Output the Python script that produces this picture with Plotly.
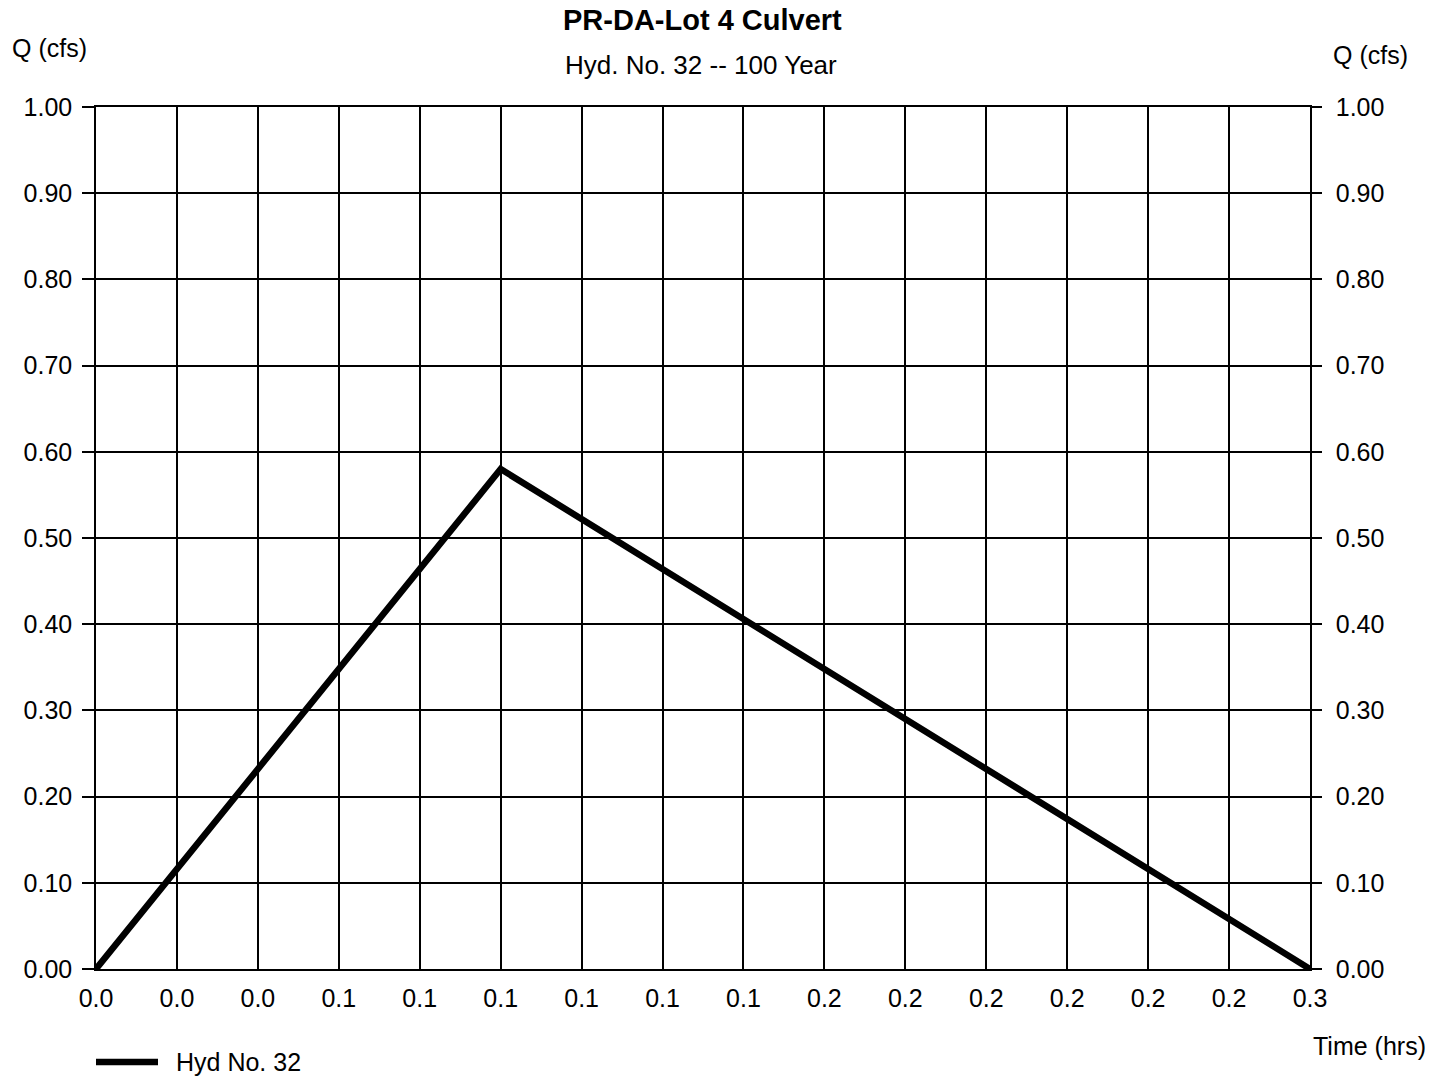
import plotly.graph_objects as go

# Hydrograph vertices (time in hours, flow in cfs)
time_hrs = [0.0, 5 / 60, 15 / 60]
flow_cfs = [0.0, 0.58, 0.0]
series_name = "Hyd No. 32"

# X-axis tick positions (one per minute) and their printed labels
x_tick_minutes = list(range(0, 16))
x_tick_labels = ["0.0", "0.0", "0.0", "0.1", "0.1", "0.1", "0.1", "0.1",
                 "0.1", "0.2", "0.2", "0.2", "0.2", "0.2", "0.2", "0.3"]
y_tick_vals = [i / 10 for i in range(0, 11)]

FONT = "Liberation Sans, Arial, Helvetica, sans-serif"
LINE_W = 6.5

W, H = 1444, 1078
L, R, T, B = 96, 134, 107, 109
pw, ph = W - L - R, H - T - B


def px_x(x):
    return (x - L) / pw


def px_y(y):
    return (H - B - y) / ph


fig = go.Figure()
fig.add_trace(go.Scatter(
    x=time_hrs, y=flow_cfs, mode="lines", name=series_name,
    line=dict(color="black", width=LINE_W), showlegend=False,
))
# invisible trace to drive the right-hand axis
fig.add_trace(go.Scatter(
    x=[0, 0.25], y=[0, 1], yaxis="y2", mode="lines",
    line=dict(width=0), showlegend=False, hoverinfo="skip",
))

fig.update_layout(
    width=W, height=H,
    margin=dict(l=L, r=R, t=T, b=B),
    paper_bgcolor="white", plot_bgcolor="white",
    font=dict(family=FONT, size=25, color="black"),
    showlegend=False,
    xaxis=dict(
        range=[0, 0.25],
        tickvals=[m / 60 for m in x_tick_minutes],
        ticktext=x_tick_labels,
        showgrid=True, gridcolor="black", gridwidth=1.5,
        showline=True, linecolor="black", linewidth=1.5, mirror=True,
        ticks="", ticklabelstandoff=6, zeroline=False,
    ),
    yaxis=dict(
        range=[0, 1], tickvals=y_tick_vals, tickformat=".2f",
        showgrid=True, gridcolor="black", gridwidth=1.5,
        showline=True, linecolor="black", linewidth=1.5,
        ticks="outside", ticklen=12, tickcolor="black", tickwidth=1.5,
        ticklabelstandoff=5, zeroline=False,
    ),
    yaxis2=dict(
        range=[0, 1], tickvals=y_tick_vals, tickformat=".2f",
        overlaying="y", side="right", showgrid=False,
        showline=True, linecolor="black", linewidth=1.5,
        ticks="outside", ticklen=10, tickcolor="black", tickwidth=1.5,
        ticklabelstandoff=9, zeroline=False,
    ),
)

# legend key drawn beneath the plot
fig.add_shape(type="line", xref="paper", yref="paper",
              x0=px_x(96), x1=px_x(158), y0=px_y(1062), y1=px_y(1062),
              line=dict(color="black", width=LINE_W))

labels = [
    ("<b>PR-DA-Lot 4 Culvert</b>", 702, 20, "center", 29),
    ("Hyd. No. 32 -- 100 Year", 701, 65, "center", 26),
    ("Q (cfs)", 10, 48, "left", 25),
    ("Q (cfs)", 1410, 55, "right", 25),
    ("Time (hrs)", 1428, 1046, "right", 25),
    (series_name, 174, 1062, "left", 25),
]
for text, x, y, anchor, size in labels:
    fig.add_annotation(text=text, x=px_x(x), y=px_y(y), xref="paper",
                       yref="paper", showarrow=False, xanchor=anchor,
                       yanchor="middle", font=dict(size=size))

fig.write_html("out.html")
